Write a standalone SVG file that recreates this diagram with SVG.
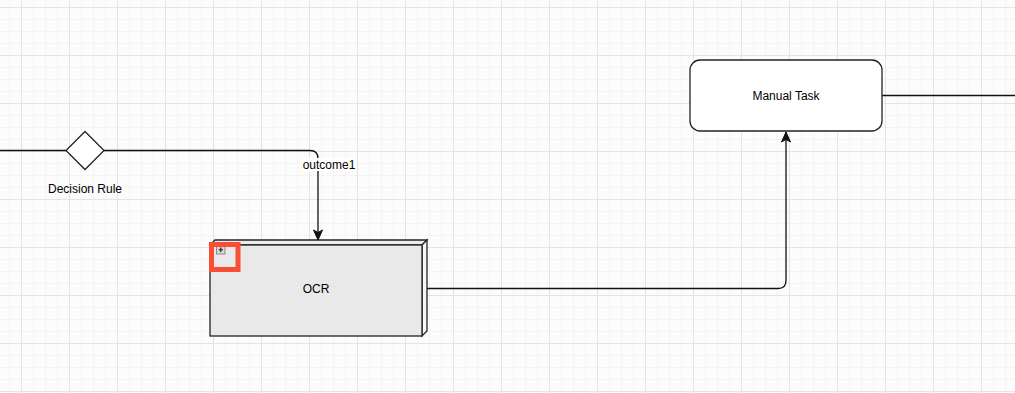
<svg xmlns="http://www.w3.org/2000/svg" width="1015" height="393" viewBox="0 0 1015 393">
  <style>
    .line { fill: none; stroke: #111; stroke-width: 1.3; }
    .shape { stroke: #222; stroke-width: 1.3; }
    .label { font-family: "Liberation Sans", Arial, sans-serif; font-size: 12px; fill: #000; text-anchor: middle; }
  </style>
  <defs>
    <pattern id="grid" patternUnits="userSpaceOnUse" x="21" y="7" width="48" height="48">
      <rect width="48" height="48" fill="#fcfcfc"/>
      <path d="M12.5,0V48M24.5,0V48M36.5,0V48M0,12.5H48M0,24.5H48M0,36.5H48" stroke="#f4f4f4" stroke-width="1" fill="none"/>
      <path d="M0.5,0V48M0,0.5H48" stroke="#e4e4e4" stroke-width="1" fill="none"/>
    </pattern>
    <marker id="arrow" markerUnits="userSpaceOnUse" markerWidth="12" markerHeight="12" viewBox="0 0 12 12" refX="11" refY="6" orient="auto">
      <path d="M1,1.5 L11,6 L1,10.5 L3.5,6 Z" fill="#111" stroke="#111" stroke-width="1"/>
    </marker>
  </defs>
  <rect width="1015" height="393" fill="url(#grid)"/>

  <g id="connectors">
    <path class="line" d="M0,150.5 H66"/>
    <path class="line" d="M104,150.5 H310 Q318,150.5 318,158.5 V240" marker-end="url(#arrow)"/>
    <path class="line" d="M427,288.5 H778 Q786,288.5 786,280.5 V132" marker-end="url(#arrow)"/>
    <path class="line" d="M882,95.5 H1015"/>
    <g id="label-outcome1">
      <rect x="302" y="158" width="54" height="13" fill="#ffffff"/>
      <text class="label" x="329" y="169">outcome1</text>
    </g>
  </g>

  <g id="decision-rule">
    <polygon class="shape" points="85,131.5 104,150.5 85,169.5 66,150.5" fill="#ffffff"/>
    <text class="label" x="85" y="193">Decision Rule</text>
  </g>

  <g id="ocr">
    <polygon class="shape" points="210,245 215,240 427,240 422,245" fill="#ececec"/>
    <polygon class="shape" points="422,245 427,240 427,331 422,336" fill="#f6f6f6"/>
    <rect class="shape" x="210" y="245" width="212" height="91" fill="#e9e9e9"/>
    <text class="label" x="316" y="293">OCR</text>
    <g id="expand-icon">
      <rect x="216.5" y="245.5" width="8.5" height="8.5" fill="#d8d8d8" stroke="#8a8a8a" stroke-width="1"/>
      <path d="M218.5,249.75 H223 M220.75,247.5 V252" stroke="#222" stroke-width="1.2"/>
    </g>
    <rect x="211.5" y="244.5" width="26.5" height="25" fill="none" stroke="#f94e33" stroke-width="5"/>
  </g>

  <g id="manual-task">
    <rect class="shape" x="690" y="60" width="192" height="71" rx="10" ry="10" fill="#ffffff"/>
    <text class="label" x="786" y="100">Manual Task</text>
  </g>
</svg>
